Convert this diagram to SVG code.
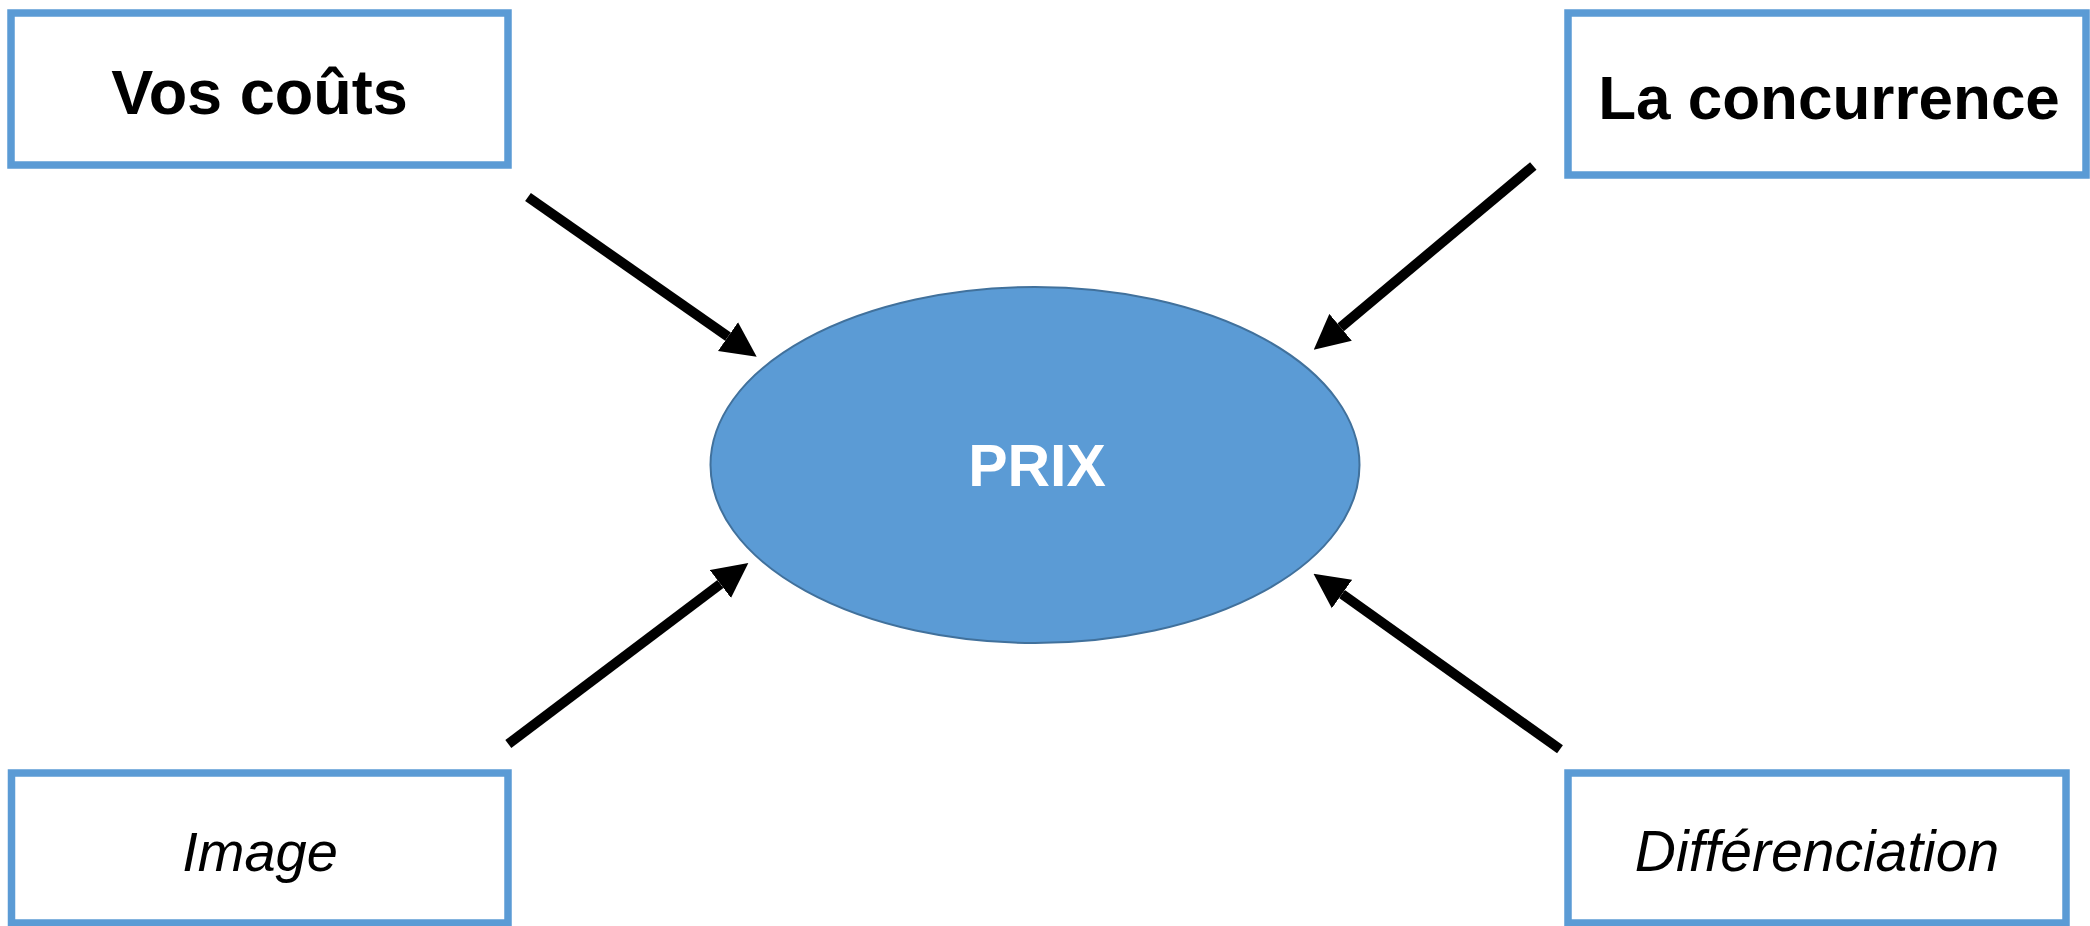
<svg xmlns="http://www.w3.org/2000/svg" width="2090" height="926" viewBox="0 0 2090 926">
  <style>
    .box { fill: #FFFFFF; stroke: #5B9BD5; stroke-width: 7.5; }
    .lbl { font-family: "Liberation Sans", Arial, sans-serif; fill: #000000; text-anchor: middle; }
    .bold { font-weight: bold; font-size: 62px; }
    .ital { font-style: italic; font-size: 56px; }
    .center { fill: #5B9BD5; stroke: #41719C; stroke-width: 2; }
    .center-lbl { font-family: "Liberation Sans", Arial, sans-serif; font-weight: bold; font-size: 59px; fill: #FFFFFF; text-anchor: middle; }
    .arrow { stroke: #000000; stroke-width: 10; fill: none; marker-end: url(#head); }
  </style>
  <defs>
    <marker id="head" viewBox="0 0 10 10" refX="0" refY="5" markerWidth="3.5" markerHeight="3.6" orient="auto" markerUnits="strokeWidth">
      <path d="M0,0 L10,5 L0,10 z" fill="#000000"/>
    </marker>
  </defs>

  <rect width="2090" height="926" fill="#FFFFFF"/>

  <!-- central price ellipse -->
  <g id="prix">
    <ellipse class="center" cx="1035" cy="465" rx="324.5" ry="178"/>
    <text class="center-lbl" x="1037" y="486">PRIX</text>
  </g>

  <!-- factor boxes -->
  <g id="vos-couts">
    <rect class="box" x="11" y="13" width="497" height="152"/>
    <text class="lbl bold" x="259.5" y="114" style="font-size:63px">Vos coûts</text>
  </g>

  <g id="concurrence">
    <rect class="box" x="1568" y="13" width="518" height="162"/>
    <text class="lbl bold" x="1829" y="119">La concurrence</text>
  </g>

  <g id="image">
    <rect class="box" x="11.5" y="773" width="496.5" height="150"/>
    <text class="lbl ital" x="260" y="871">Image</text>
  </g>

  <g id="differenciation">
    <rect class="box" x="1568" y="773" width="498" height="150"/>
    <text class="lbl ital" x="1817" y="871" style="font-size:57px">Différenciation</text>
  </g>

  <!-- arrows pointing into the ellipse -->
  <g id="connectors">
    <line class="arrow" x1="528" y1="197" x2="728" y2="336.6"/>
    <line class="arrow" x1="1533.3" y1="166" x2="1340.6" y2="327.3"/>
    <line class="arrow" x1="508.3" y1="744" x2="720.4" y2="584"/>
    <line class="arrow" x1="1560" y1="749.3" x2="1342" y2="594"/>
  </g>
</svg>
